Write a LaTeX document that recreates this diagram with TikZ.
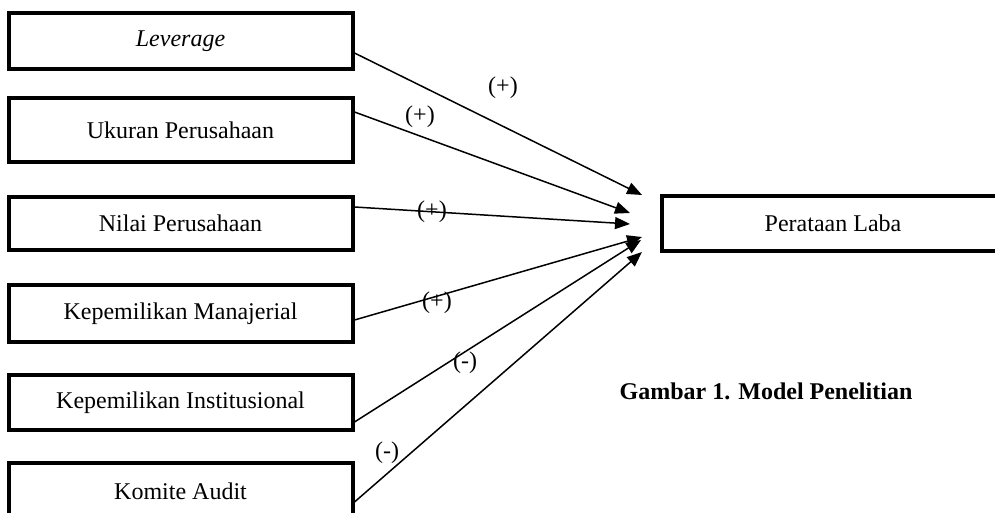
\documentclass[tikz,border=0pt]{standalone}
\usepackage{fontspec}
\setmainfont{Liberation Serif}
\usetikzlibrary{arrows.meta,calc}
\begin{document}
\begin{tikzpicture}[x=0.5pt,y=-0.5pt,
  box/.style={draw, line width=2pt, minimum width=172pt, inner sep=0pt, font=\fontsize{12}{14}\selectfont},
  arr/.style={-{Triangle[length=7.5pt,width=6pt]}, line width=0.75pt},
  sign/.style={font=\fontsize{12}{14}\selectfont, inner sep=0pt}]
\clip (0,0) rectangle (995,513);
\node[box, minimum height=28pt] (lev) at (180.5,41) {\textit{Leverage}};
\node[box, minimum height=32pt] (uku) at (180.5,130.5) {Ukuran Perusahaan};
\node[box, minimum height=26.5pt] (nil) at (180.5,223.5) {Nilai Perusahaan};
\node[box, minimum height=28.5pt] (man) at (180.5,313.5) {Kepemilikan Manajerial};
\node[box, minimum height=27.5pt] (ins) at (180.5,402.5) {Kepemilikan Institusional};
\node[box, minimum height=28pt] (kom) at (180.5,491) {Komite Audit};
\node[box, minimum height=27.5pt, minimum width=171pt] (lab) at (833,223.5) {Perataan Laba};
% arrow tips
\coordinate (t1) at (642,195);
\coordinate (t2) at (630,213);
\coordinate (t3) at (630,224);
\coordinate (t4) at (642,237);
\coordinate (t5) at (641,240);
\coordinate (t6) at (642,252);
\draw[arr] ($(lev.east)+(0,12)$) -- (t1);
\draw[arr] ($(uku.east)+(0,-18.5)$) -- (t2);
\draw[arr] ($(nil.east)+(0,-16.5)$) -- (t3);
\draw[arr] ($(man.east)+(0,6.5)$) -- (t4);
\draw[arr] ($(ins.east)+(0,19.5)$) -- (t5);
\draw[arr] ($(kom.east)+(0,11)$) -- (t6);
% signs
\node[sign] (s1) at (503,88) {(+)};
\node[sign] (s2) at (420,117) {(+)};
\node[sign] (s3) at (432,212) {(+)};
\node[sign] (s4) at (437,303) {(+)};
\node[sign] (s5) at (465,363) {(-)};
\node[sign] (s6) at (387,453) {(-)};
\node[font=\fontsize{12}{14}\selectfont\bfseries] (cap) at (766,391) {Gambar 1. Model Penelitian};
\end{tikzpicture}
\end{document}
